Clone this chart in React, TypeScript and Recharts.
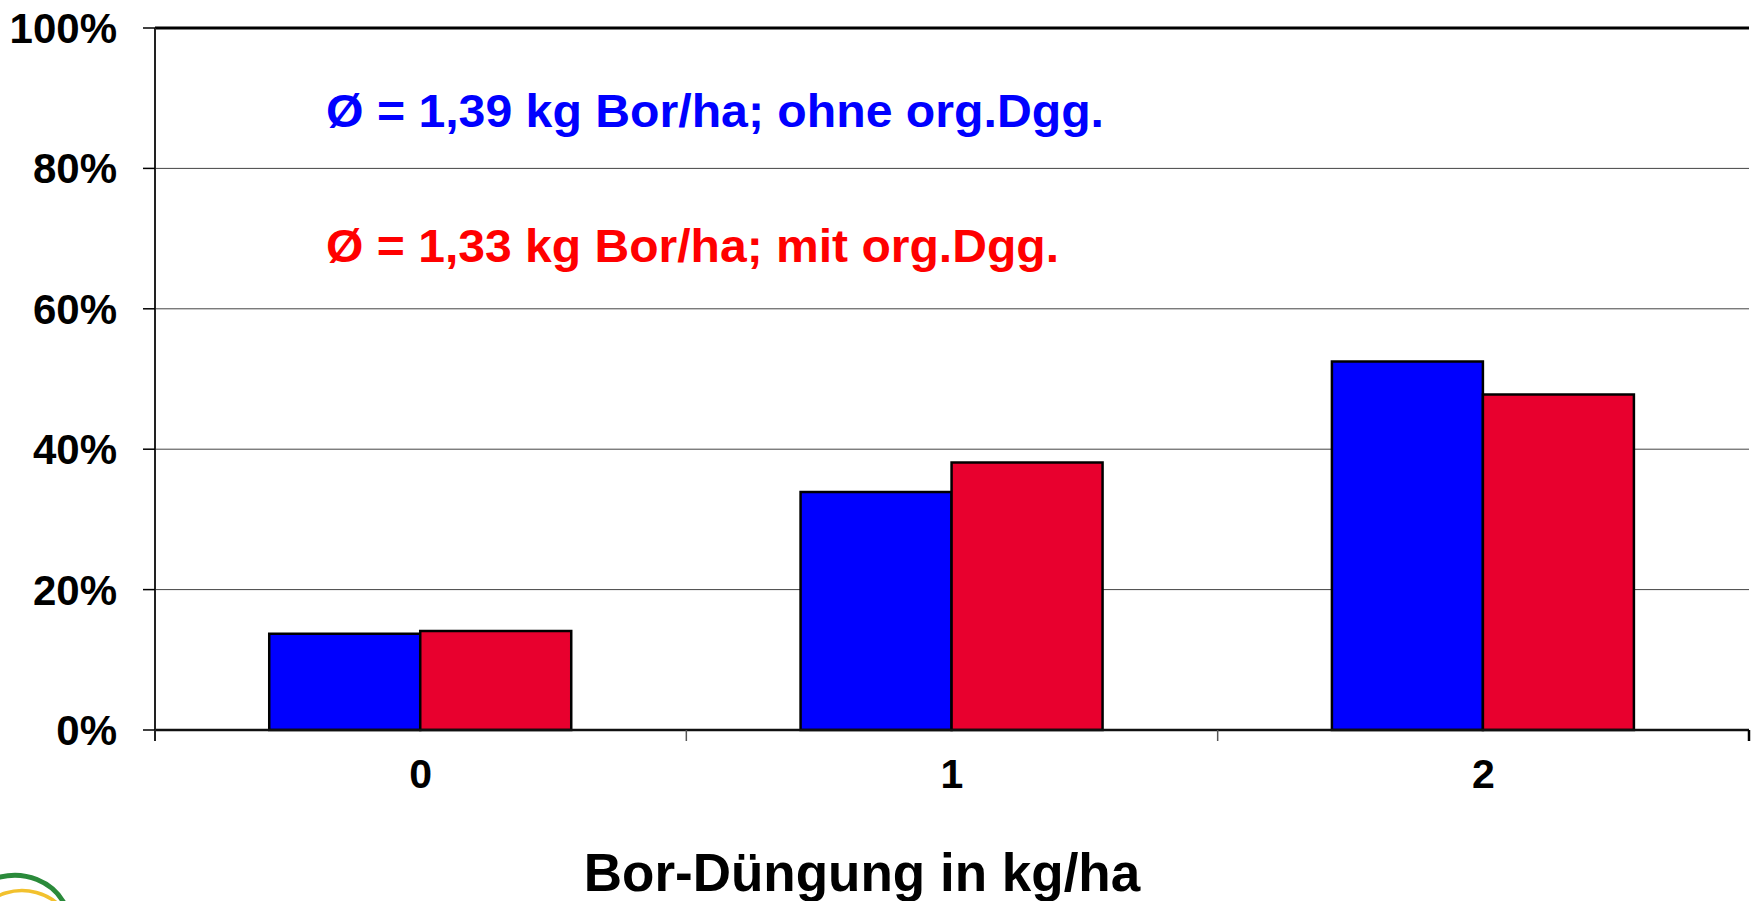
import React from "react";
import {
  BarChart,
  Bar,
  XAxis,
  YAxis,
  CartesianGrid,
  ReferenceLine,
} from "recharts";

// Bor-Düngung in kg/ha
const categories = ["0", "1", "2"];
// Anteil in %, ohne organische Düngung
const ohneOrg = [13.7, 33.9, 52.5];
// Anteil in %, mit organischer Düngung
const mitOrg = [14.1, 38.1, 47.8];
const yTicks = [0, 20, 40, 60, 80, 100];

const noteOhne = "Ø = 1,39 kg Bor/ha; ohne org.Dgg.";
const noteMit = "Ø = 1,33 kg Bor/ha; mit org.Dgg.";
const xTitle = "Bor-Düngung in kg/ha";

const data = categories.map((c, i) => ({
  name: c,
  ohne: ohneOrg[i],
  mit: mitOrg[i],
}));

const FONT = "'Liberation Sans', Arial, Helvetica, sans-serif";
const TICK_MARGIN = 29;

// Kategorie-Beschriftung plus Teilstriche an den Kategoriegrenzen
const CategoryTick = (props: any) => {
  const { x, y, payload, index, visibleTicksCount } = props;
  const half = payload?.offset ?? 0;
  const axisY = y - TICK_MARGIN;
  const isLast = index === visibleTicksCount - 1;
  return (
    <g>
      <line
        x1={x - half}
        x2={x - half}
        y1={axisY}
        y2={axisY + 11}
        stroke={index === 0 ? "#222" : "#555"}
        strokeWidth={index === 0 ? 2 : 1.5}
      />
      {isLast && (
        <line
          x1={x + half}
          x2={x + half}
          y1={axisY}
          y2={axisY + 11}
          stroke="#000"
          strokeWidth={2.5}
        />
      )}
      <text
        x={x}
        y={y}
        dy="0.71em"
        textAnchor="middle"
        fontFamily={FONT}
        fontWeight="bold"
        fontSize={41}
        fill="#000"
      >
        {payload.value}
      </text>
    </g>
  );
};

const AxisTitle = (props: any) => {
  const vb = props.viewBox || { x: 0, y: 0, width: 0, height: 0 };
  return (
    <text
      x={vb.x + vb.width / 2 - 90}
      y={vb.y + vb.height - 10}
      textAnchor="middle"
      fontFamily={FONT}
      fontWeight="bold"
      fontSize={53}
      fill="#000"
    >
      {xTitle}
    </text>
  );
};

export default function App() {
  return (
    <div
      style={{
        position: "absolute",
        left: 0,
        top: 0,
        width: 1756,
        height: 901,
        background: "#fff",
        overflow: "hidden",
      }}
    >
      <BarChart
        width={1756}
        height={901}
        data={data}
        margin={{ top: 28, right: 7, left: 0, bottom: 0 }}
        barCategoryGap="21.5%"
        barGap={0}
      >
        <CartesianGrid vertical={false} stroke="#444" strokeWidth={1} />
        <XAxis
          dataKey="name"
          height={171}
          tickLine={false}
          tickSize={0}
          tickMargin={TICK_MARGIN}
          axisLine={{ stroke: "#111", strokeWidth: 2.5 }}
          tick={<CategoryTick />}
          interval={0}
          label={<AxisTitle />}
        />
        <YAxis
          width={155}
          domain={[0, 100]}
          ticks={yTicks}
          tickFormatter={(v: number) => `${v}%`}
          tickSize={12}
          tickMargin={26}
          tickLine={{ stroke: "#000", strokeWidth: 1.5 }}
          axisLine={{ stroke: "#222", strokeWidth: 2 }}
          tick={{
            fontFamily: FONT,
            fontWeight: "bold",
            fontSize: 42,
            fill: "#000",
          }}
          interval={0}
        />
        <YAxis
          yAxisId="frame"
          orientation="right"
          width={0}
          tick={false}
          tickLine={false}
          axisLine={{ stroke: "#000", strokeWidth: 3 }}
        />
        <ReferenceLine y={100} stroke="#000" strokeWidth={3} ifOverflow="extendDomain" />
        <Bar
          dataKey="ohne"
          fill="#0000FF"
          stroke="#000"
          strokeWidth={2.5}
          isAnimationActive={false}
        />
        <Bar
          dataKey="mit"
          fill="#E8002E"
          stroke="#000"
          strokeWidth={2.5}
          isAnimationActive={false}
        />
      </BarChart>

      {/* Mittelwerte als Textfeld im Diagramm */}
      <svg
        width={1756}
        height={901}
        style={{ position: "absolute", left: 0, top: 0, pointerEvents: "none" }}
      >
        <text
          x={326}
          y={127}
          fontFamily={FONT}
          fontWeight="bold"
          fontSize={46}
          fill="#0000FF"
          textLength={778}
          lengthAdjust="spacingAndGlyphs"
        >
          {noteOhne}
        </text>
        <text
          x={326}
          y={262}
          fontFamily={FONT}
          fontWeight="bold"
          fontSize={46}
          fill="#FF0000"
          textLength={733}
          lengthAdjust="spacingAndGlyphs"
        >
          {noteMit}
        </text>
        {/* Logo-Anschnitt unten links */}
        <path
          d="M -40 930 A 55 50 0 0 1 64 903"
          fill="none"
          stroke="#2A8A3A"
          strokeWidth={5}
        />
        <path
          d="M -30 936 A 52 48 0 0 1 62 908"
          fill="none"
          stroke="#F2C12E"
          strokeWidth={3.5}
        />
      </svg>
    </div>
  );
}
